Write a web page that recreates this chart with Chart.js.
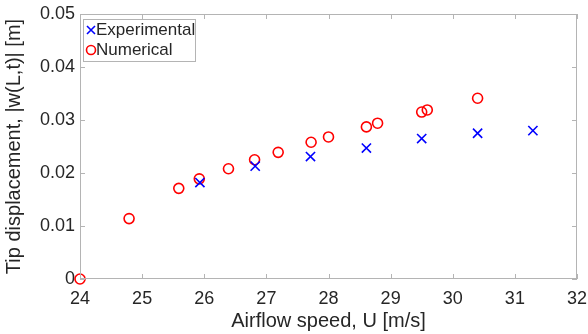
<!DOCTYPE html>
<html>
<head>
<meta charset="utf-8">
<script src="https://cdn.jsdelivr.net/npm/chart.js@4"></script>
<style>
  html, body { margin: 0; padding: 0; background: #fff; }
  #wrap { width: 588px; height: 334px; }
</style>
</head>
<body>
<div id="wrap"><canvas id="myChart" width="588" height="334"></canvas></div>
<script>
// Datos
const expSpeed = [25.93, 26.82, 27.71, 28.61, 29.50, 30.40, 31.29];
const expDisp = [0.0182, 0.0213, 0.0231, 0.0247, 0.0265, 0.0275, 0.0280];

const numSpeed = [24.0, 24.79, 25.59, 25.92, 26.39, 26.81, 27.19, 27.72, 28.0, 28.61, 28.79, 29.50, 29.59, 30.40];
const numDisp = [0.0, 0.0114, 0.0171, 0.0189, 0.0208, 0.0225, 0.0239, 0.0258, 0.0268, 0.0287, 0.0294, 0.0315, 0.0319, 0.0341];

const xTicks = [24, 25, 26, 27, 28, 29, 30, 31, 32];
const yTicks = [0, 0.01, 0.02, 0.03, 0.04, 0.05];

const axisGray = '#b4b4b4';
const textGray = '#262626';
const font = 'Arial, "Liberation Sans", Helvetica, sans-serif';

// Ticks hacia adentro y caja completa (estilo MATLAB)
const boxPlugin = {
    id: 'boxTicks',
    afterDatasetsDraw(chart) {
        const { ctx, chartArea: a, scales } = chart;
        ctx.save();
        ctx.strokeStyle = axisGray;
        ctx.lineWidth = 1;
        ctx.strokeRect(a.left + 0.5, a.top + 0.5, a.right - a.left - 1, a.bottom - a.top - 1);
        ctx.beginPath();
        xTicks.forEach(v => {
            const px = Math.round(scales.x.getPixelForValue(v)) + 0.5;
            ctx.moveTo(px, a.bottom); ctx.lineTo(px, a.bottom - 5);
            ctx.moveTo(px, a.top); ctx.lineTo(px, a.top + 5);
        });
        yTicks.forEach(v => {
            const py = Math.round(scales.y.getPixelForValue(v)) + 0.5;
            ctx.moveTo(a.left, py); ctx.lineTo(a.left + 5, py);
            ctx.moveTo(a.right, py); ctx.lineTo(a.right - 5, py);
        });
        ctx.stroke();
        ctx.restore();
    },
    afterDraw(chart) {
        // Leyenda dentro del area
        const { ctx, chartArea: a } = chart;
        const lx = a.left + 3, ly = a.top + 5;
        ctx.save();
        ctx.fillStyle = '#fff';
        ctx.fillRect(lx, ly, 112, 42);
        ctx.strokeStyle = axisGray;
        ctx.lineWidth = 1;
        ctx.strokeRect(lx + 0.5, ly + 0.5, 112, 42);
        // marcador X
        ctx.strokeStyle = '#0000ff';
        ctx.lineWidth = 1.6;
        ctx.beginPath();
        ctx.moveTo(lx + 4, ly + 7); ctx.lineTo(lx + 12, ly + 15);
        ctx.moveTo(lx + 12, ly + 7); ctx.lineTo(lx + 4, ly + 15);
        ctx.stroke();
        // marcador circulo
        ctx.strokeStyle = '#ff0000';
        ctx.beginPath();
        ctx.arc(lx + 8, ly + 31, 4.5, 0, Math.PI * 2);
        ctx.stroke();
        ctx.fillStyle = textGray;
        ctx.font = '17px ' + font;
        ctx.textBaseline = 'middle';
        ctx.fillText('Experimental', lx + 13, ly + 11);
        ctx.fillText('Numerical', lx + 13, ly + 31);
        ctx.restore();
    }
};

const ctx = document.getElementById('myChart').getContext('2d');
let myChart = new Chart(ctx, {
    type: 'scatter',
    data: {
        datasets: [{
            label: 'Experimental',
            data: expSpeed.map((x, i) => ({ x: x, y: expDisp[i] })),
            pointStyle: 'crossRot',
            borderColor: '#0000ff',
            backgroundColor: '#0000ff',
            borderWidth: 1.6,
            pointRadius: 6.5
        }, {
            label: 'Numerical',
            data: numSpeed.map((x, i) => ({ x: x, y: numDisp[i] })),
            pointStyle: 'circle',
            borderColor: '#ff0000',
            backgroundColor: 'rgba(0,0,0,0)',
            borderWidth: 1.6,
            pointRadius: 5
        }]
    },
    options: {
        responsive: false,
        animation: false,
        clip: false,
        layout: { padding: { top: 14, right: 11, left: 0, bottom: 0 } },
        plugins: { legend: { display: false }, tooltip: { enabled: false } },
        scales: {
            x: {
                type: 'linear',
                min: 24, max: 32,
                afterBuildTicks: s => { s.ticks = xTicks.map(v => ({ value: v })); },
                afterFit: s => { s.height = 55; s.paddingLeft = 0; s.paddingRight = 0; },
                grid: { display: false, drawTicks: false, tickLength: 0 },
                border: { display: false },
                ticks: { color: textGray, font: { family: font, size: 18 }, padding: 9, maxRotation: 0 },
                title: { display: true, text: 'Airflow speed, U [m/s]', color: textGray, font: { family: font, size: 20 }, padding: { top: 0, bottom: 1 } }
            },
            y: {
                type: 'linear',
                min: 0, max: 0.05,
                afterBuildTicks: s => { s.ticks = yTicks.map(v => ({ value: v })); },
                afterFit: s => { s.width = 80; s.paddingTop = 0; s.paddingBottom = 0; },
                grid: { display: false, drawTicks: false, tickLength: 0 },
                border: { display: false },
                ticks: { color: textGray, font: { family: font, size: 18 }, padding: 5, callback: v => String(Math.round(v * 100) / 100) },
                title: { display: true, text: 'Tip displacement, |w(L,t)| [m]', color: textGray, font: { family: font, size: 20 }, padding: { top: 2, bottom: 4 } }
            }
        }
    },
    plugins: [boxPlugin]
});
</script>
</body>
</html>
